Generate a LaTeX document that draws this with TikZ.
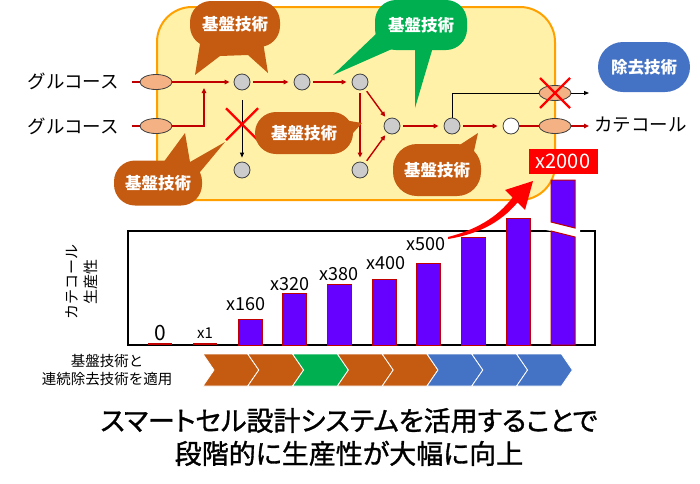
\documentclass[tikz,border=0pt]{standalone}
\usepackage{fontspec}
\setmainfont{Noto Sans CJK JP}
\newfontfamily\titlefont{Noto Sans CJK JP}[RawFeature=+palt, FakeBold=1.2]
\usetikzlibrary{arrows.meta,positioning,calc,shapes.geometric}
\definecolor{Brown}{RGB}{197,90,17}
\definecolor{Leaf}{RGB}{0,176,80}
\definecolor{Sky}{RGB}{68,114,196}
\definecolor{Violet}{RGB}{102,0,255}
\definecolor{DarkRed}{RGB}{192,0,0}
\definecolor{PaleYellow}{RGB}{255,242,168}
\definecolor{Amber}{RGB}{255,160,0}
\definecolor{Peach}{RGB}{244,177,131}
\definecolor{MetGray}{RGB}{204,204,204}
\tikzset{
  flow/.style={-{Triangle[length=5pt,width=4.5pt]}, line width=1.4pt, draw=DarkRed},
  blk/.style={-{Triangle[length=5pt,width=4pt]}, line width=0.9pt, draw=black},
  met/.style={circle, draw=black!75, fill=MetGray, line width=0.8pt,
    minimum size=16pt, inner sep=0pt},
  enz/.style={ellipse, draw=black!75, fill=Peach, line width=0.8pt,
    minimum width=32pt, minimum height=15pt, inner sep=0pt},
  bubble/.style={rounded corners=21pt, minimum width=90pt, minimum height=46pt,
    text=white, font=\fontsize{16.5}{18}\selectfont\bfseries, inner sep=0pt},
  cmpd/.style={font=\fontsize{18.5}{20}\selectfont, inner sep=0pt},
  barlbl/.style={font=\fontsize{18}{20}\selectfont, inner sep=0pt},
  note/.style={font=\fontsize{14.5}{18}\selectfont, align=center, inner sep=0pt},
}
\newcommand{\redx}[2]{%
  % #1=centre, #2=half size
  \draw[red, line width=2.2pt]
    ($(#1)+(-#2,-#2)$) -- ($(#1)+(#2,#2)$)
    ($(#1)+(-#2,#2)$) -- ($(#1)+(#2,-#2)$);
}
\newcommand{\chev}[2]{%
  % #1=left x, #2=colour
  \filldraw[fill=#2, draw=white, line width=0.8pt]
    (#1,354) -- ++(44.8,0) -- ++(11,16) -- ++(-11,16) -- ++(-44.8,0)
    -- ++(11,-16) -- cycle;
}

\begin{document}
\begin{tikzpicture}[x=1pt,y=-1pt]
\useasboundingbox (0,0) rectangle (700,483);

% ---- Pathway panel ----
\draw[draw=Amber, fill=PaleYellow, line width=2pt, rounded corners=35pt]
  (157,7) rectangle (555,200);

\node[enz] (e1) at (156,82) {};
\node[enz] (e2) at (156,126) {};
\node[cmpd, anchor=east] (glc1) at (119,81) {グルコース};
\node[cmpd, anchor=east] (glc2) at (119,126) {グルコース};
\coordinate (in1) at (132,82);
\coordinate (in2) at (132,126);

\node[met] (m1) at (242,82) {};
\node[met] (m2) at (302,82) {};
\node[met] (m3) at (360,82) {};
\node[met] (m4) at (242,170) {};
\node[met] (m5) at (360,170) {};
\node[met] (m6) at (392,126) {};
\node[met] (m7) at (452,126) {};
\node[met, fill=white] (m8) at (511,126) {};

\node[enz] (e3) at (555,93) {};
\node[enz] (e4) at (555,126) {};
\coordinate (out1) at (589,93);
\coordinate (out2) at (589,126);
\node[cmpd, anchor=west] (cat) at (594,125) {カテコール};

\coordinate (j1) at (204,82);

% ---- Arrows ----
\draw[DarkRed, line width=1.4pt] (in1) -- (e1.west);
\draw[DarkRed, line width=1.4pt] (in2) -- (e2.west);
\draw[flow, shorten >=4pt] (e1.east) -- (m1.west);
\draw[flow, shorten >=6pt] (e2.east) -| (j1);
\draw[flow, shorten <=3pt, shorten >=5pt] (m1) -- (m2);
\draw[flow, shorten <=3pt, shorten >=5pt] (m2) -- (m3);
\draw[flow, shorten <=3pt, shorten >=4pt] (m3) -- (m5);
\draw[flow, shorten <=3pt, shorten >=3pt] (m3) -- (m6);
\draw[flow, shorten <=3pt, shorten >=3pt] (m5) -- (m6);
\draw[flow, shorten <=3pt, shorten >=5pt] (m6) -- (m7);
\draw[flow, shorten <=3pt, shorten >=5pt] (m7) -- (m8);
\draw[DarkRed, line width=1.4pt] (m8.east) -- (e4.west);
\draw[flow] (e4.east) -- (out2);
\draw[blk, shorten <=10pt, shorten >=4pt] (m1) -- (m4);
\draw[line width=0.9pt] (m7.north) |- (e3.west);
\draw[blk] (e3.east) -- (out1);

\redx{$(m1)!0.48!(m4)$}{16}
\redx{e3}{15}

% ---- Callouts ----
\node[bubble, fill=Brown] (b1) at (235,24) {基盤技術};
\fill[Brown] (200,44) -- (195,75) -- (220,56) -- (248,55) -- (268,73) -- (263,42) -- cycle;

\node[bubble, fill=Leaf, minimum width=92pt, minimum height=50pt] (b2) at (421,25) {基盤技術};
\fill[Leaf] (377,33) -- (333,75) -- (392,49) -- (415,49) -- (415,108) -- (433,47) -- cycle;

\node[bubble, fill=Brown, minimum width=98pt, minimum height=42pt] (b3) at (304,133) {基盤技術};
\fill[Brown] (332,118) -- (362,123) -- (345,142) -- cycle;

\node[bubble, fill=Brown, minimum width=88pt, minimum height=45pt] (b4) at (158,183) {基盤技術};
\fill[Brown] (160,167) -- (185,133) -- (190,162) -- (225,142) -- (200,172) -- cycle;

\node[bubble, fill=Brown, minimum width=88pt, minimum height=52pt, rounded corners=24pt] (b5) at (437,170) {基盤技術};
\fill[Brown] (452,150) -- (478,133) -- (472,160) -- cycle;

\node[bubble, fill=Sky, minimum width=92pt, minimum height=50pt, rounded corners=25pt] (rm) at (644,67) {除去技術};

% ---- Bar chart ----
\draw[line width=1.3pt] (128,231) rectangle (595,345);
\node[rotate=90, note, font=\fontsize{15}{19}\selectfont] (ylab) at (82,282) {カテコール\\生産性};

\draw[DarkRed, line width=2.5pt] (148,344) -- (172,344);
\draw[DarkRed, line width=2.5pt] (193,344) -- (217,344);
\foreach \x/\t in {250/319, 294/293, 339/284, 384/279, 428/263, 473/237, 518/218}{
  \draw[DarkRed, fill=Violet, line width=1pt] (\x-12,345) rectangle (\x+12,\t);
}
% broken tallest bar
\fill[white] (546,222) -- (580,229) -- (580,237) -- (546,230) -- cycle;
\draw[DarkRed, fill=Violet, line width=1pt] (551,180) -- (575,180) -- (575,228) -- (551,222) -- cycle;
\draw[DarkRed, fill=Violet, line width=1pt] (551,231) -- (575,237) -- (575,345) -- (551,345) -- cycle;

\node[barlbl, font=\fontsize{21}{22}\selectfont] (v0) at (160,333) {0};
\node[barlbl, font=\fontsize{15}{16}\selectfont] (v1) at (205,333) {x1};
\node[barlbl] (v2) at (246,304) {x160};
\node[barlbl] (v3) at (290,284) {x320};
\node[barlbl] (v4) at (339,274) {x380};
\node[barlbl] (v5) at (386,263) {x400};
\node[barlbl] (v6) at (426,244) {x500};

\node[fill=red, text=white, font=\fontsize{20}{21}\selectfont,
  minimum width=69pt, minimum height=25pt, inner sep=0pt] (big) at (563,161) {x2000};

% tapered arrow
\fill[red] (448,237) .. controls (475,230) and (497,218) .. (512.5,197.5)
  -- (505,190) -- (533,181) -- (525,210) -- (517.5,202.5)
  .. controls (500,223) and (478,234) .. (448,239) -- cycle;

% ---- Steps ----
\node[note] (steps) at (107,370) {基盤技術と\\連続除去技術を適用};
\foreach \c [count=\i from 0] in {Brown,Brown,Leaf,Brown,Brown,Sky,Sky,Sky}{
  \chev{203+\i*44.8}{\c}
}

% ---- Message ----
\node[font=\titlefont\fontsize{27}{33}\selectfont, align=center] (msg) at (349,437)
  {スマートセル設計システムを活用することで\\段階的に生産性が大幅に向上};

\end{tikzpicture}
\end{document}
